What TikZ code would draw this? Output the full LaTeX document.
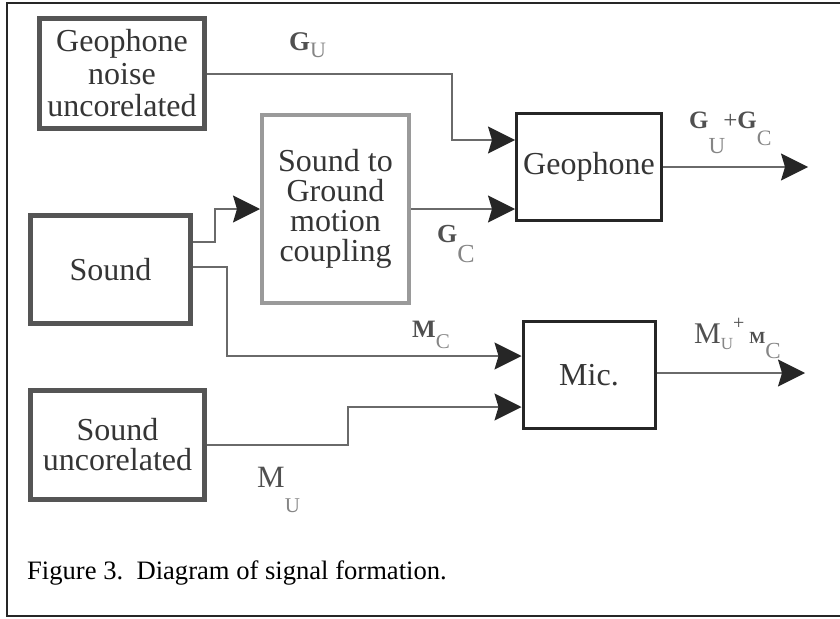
\documentclass[tikz,border=0pt]{standalone}
\usepackage{fontspec}
\setmainfont{Liberation Serif}
\usepackage{xcolor}
\usetikzlibrary{arrows.meta, positioning}
\definecolor{boxgray}{HTML}{555555}
\definecolor{lightbox}{HTML}{9A9A9A}
\definecolor{wiregray}{HTML}{6A6A6A}
\definecolor{textgray}{HTML}{353535}
\definecolor{labelgray}{HTML}{505050}
\definecolor{subgray}{HTML}{858585}
\newcommand{\sz}[1]{\fontsize{#1}{#1}\selectfont}
\newcommand{\lsub}[3]{\raisebox{#1}{\color{subgray}\sz{#2}#3}}
\tikzset{
  block/.style={rectangle, draw=black!85, line width=3pt, fill=white,
                inner sep=2pt, align=center, text=textgray,
                font=\fontsize{32}{30}\selectfont},
  blockthick/.style={block, draw=boxgray, line width=5pt},
  blocklight/.style={block, draw=lightbox, line width=4pt},
  arrow/.style={-{Stealth[length=27pt, width=27pt, inset=4pt, color=black!85]},
                line width=1.5pt, draw=wiregray},
  siglabel/.style={anchor=base west, inner sep=0pt, text=labelgray},
}
\begin{document}
\begin{tikzpicture}[x=1pt, y=-1pt]
  \useasboundingbox (0,0) rectangle (840,618);
  \draw[line width=2pt, black!85] (840,3) -- (7,3) -- (7,616) -- (840,616);

  % source blocks
  \node[blockthick, minimum width=165pt, minimum height=110pt,
        font=\fontsize{32}{32.5}\selectfont] (gnoise)
    at (122,73.5) {Geophone\\noise\\uncorelated};
  \node[blockthick, minimum width=160pt, minimum height=108pt] (sound)
    at (110.5,269.5) {Sound};
  \node[blockthick, minimum width=174pt, minimum height=109pt,
        below right=62pt and 0pt of sound.south west] (suncor)
    {Sound\\uncorelated};
  \node[blocklight, minimum width=147pt, minimum height=188pt] (cpl)
    at (335.5,209) {Sound to\\Ground\\motion\\coupling};

  % sensors
  \node[block, minimum width=145pt, minimum height=107pt] (geo)
    at (589,167) {Geophone};
  \node[block, minimum width=132pt, minimum height=107pt,
        below=98pt of geo] (mic) {Mic.};

  \coordinate (gubend) at (452,140);
  \coordinate (geout) at (808,167);
  \coordinate (micout) at (805,373);

  \draw[arrow] ([yshift=-0.5pt]gnoise.east) -| (gubend) -- (gubend -| geo.west);
  \draw[arrow] ([yshift=27.5pt]sound.east) -- ++(22,0) |- (cpl.west);
  \draw[arrow] (cpl.east) -- (cpl.east -| geo.west);
  \draw[arrow] ([yshift=2.5pt]sound.east) -- ++(34,0) |- ([yshift=19pt]mic.west);
  \draw[arrow] (suncor.east) -- ++(141,0) |- ([yshift=-32pt]mic.west);
  \draw[arrow] (geo.east) -- (geout);
  \draw[arrow] ([yshift=2pt]mic.east) -- (micout);

  % signal labels
  \node[siglabel] (lgu) at (289,51) {\sz{27}\textbf{G}\lsub{-6pt}{22}{U}};
  \node[siglabel] (lgc) at (437,242) {\sz{26}\textbf{G}\lsub{-20pt}{26}{C}};
  \node[siglabel] (lgout) at (689,128)
    {\sz{25}\textbf{G}\lsub{-25pt}{23}{U}\hspace{-2pt}{+}\textbf{G}\lsub{-17pt}{22}{C}};
  \node[siglabel] (lmc) at (412,337) {\sz{25}\textbf{M}\lsub{-11pt}{21}{C}};
  \node[siglabel] (lmout) at (694,343)
    {\sz{30}M\lsub{-6pt}{17}{U}\raisebox{14pt}{\sz{20}+}\,\sz{17}\textbf{M}\lsub{-15pt}{23}{C}};
  \node[siglabel] (lmu) at (257,487) {\sz{31}M\lsub{-25pt}{21}{U}};

  \node[anchor=base west, inner sep=0pt, font=\fontsize{26.6}{30}\selectfont]
    (caption) at (27,579) {Figure 3.\ \ Diagram of signal formation.};
\end{tikzpicture}
\end{document}
